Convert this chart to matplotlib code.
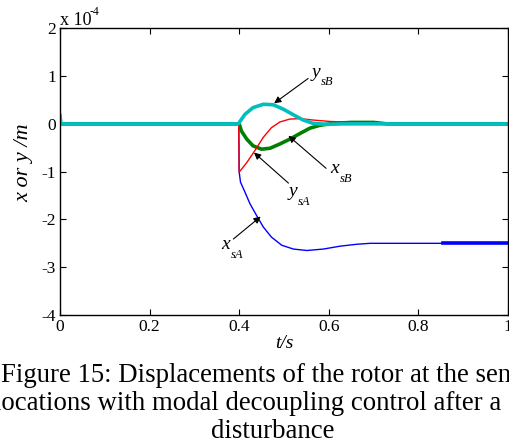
import matplotlib
matplotlib.use("Agg")
import matplotlib.pyplot as plt

plt.rcParams["font.family"] = ["Liberation Serif", "DejaVu Serif"]
plt.rcParams["axes.unicode_minus"] = False

# displacement values in units of 1e-4 m
t_xsA = [0, 0.399, 0.400, 0.401, 0.403, 0.413, 0.424, 0.439, 0.454, 0.472, 0.495,
         0.521, 0.551, 0.588, 0.625, 0.662, 0.692, 0.75, 0.855, 1.0]
v_xsA = [0, 0, -1.00, -1.08, -1.22, -1.43, -1.67, -1.92, -2.16, -2.37, -2.54,
         -2.62, -2.65, -2.62, -2.56, -2.52, -2.50, -2.50, -2.50, -2.50]

t_xsB = [0, 0.400, 0.405, 0.417, 0.431, 0.450, 0.469, 0.491, 0.513, 0.536, 0.558,
         0.580, 0.610, 0.650, 0.700, 0.730, 1.0]
v_xsB = [0, 0, -0.15, -0.32, -0.46, -0.53, -0.51, -0.42, -0.32, -0.20, -0.09,
         -0.03, 0.01, 0.03, 0.03, 0.0, 0]

t_ysA = [0, 0.399, 0.400, 0.417, 0.435, 0.454, 0.472, 0.491, 0.513, 0.536, 0.565,
         0.603, 0.662, 0.700, 1.0]
v_ysA = [0, 0, -1.01, -0.81, -0.56, -0.28, -0.08, 0.04, 0.10, 0.11, 0.08,
         0.05, 0.03, 0.0, 0]

t_ysB = [0, 0.002, 0.004, 0.398, 0.413, 0.431, 0.454, 0.476, 0.498, 0.521, 0.543,
         0.565, 0.595, 0.630, 1.0]
v_ysB = [0.18, 0.02, 0, 0, 0.20, 0.34, 0.41, 0.40, 0.31, 0.19, 0.08,
         0.01, -0.01, 0, 0]

# letter, subscript, text baseline, arrow start, arrow tip (t, value)
labels = [
    ("y", "sB", (0.562, 0.985), (0.554, 0.95), (0.478, 0.43)),
    ("x", "sB", (0.603, -1.03), (0.594, -0.93), (0.510, -0.25)),
    ("y", "sA", (0.510, -1.52), (0.510, -1.24), (0.433, -0.60)),
    ("x", "sA", (0.361, -2.62), (0.387, -2.41), (0.448, -1.94)),
]

x_ticks = [0, 0.2, 0.4, 0.6, 0.8, 1]
x_ticklabels = ["0", "0.2", "0.4", "0.6", "0.8", "1"]
y_ticks = [-4, -3, -2, -1, 0, 1, 2]

caption = [
    "Figure 15: Displacements of the rotor at the sensor",
    "locations with modal decoupling control after a step",
    "disturbance",
]

W, H = 510, 447
fig = plt.figure(figsize=(W / 100, H / 100), dpi=100)
ax = fig.add_axes([0.1176, 0.2953, 0.8784, 0.6414])

ax.plot(t_xsA, v_xsA, color=(0, 0, 1), lw=1.0)
ax.plot(t_xsA[-2:], v_xsA[-2:], color=(0, 0, 1), lw=2.6)
ax.plot(t_xsB, v_xsB, color=(0, 0.5, 0), lw=2.6)
ax.plot(t_ysA, v_ysA, color=(1, 0, 0), lw=1.0)
ax.plot(t_ysB, v_ysB, color=(0, 0.75, 0.75), lw=2.6)

for letter, sub, pos, start, tip in labels:
    ax.text(pos[0], pos[1], letter, fontsize=14, fontstyle="italic",
            ha="left", va="baseline")
    ax.annotate(sub, xy=pos, xytext=(9.5, -8.5), textcoords="offset pixels",
                fontsize=9, fontstyle="italic", ha="left", va="baseline")
    ax.annotate("", xy=tip, xytext=start,
                arrowprops=dict(arrowstyle="-|>", color="black", lw=0.8,
                                mutation_scale=10, shrinkA=0, shrinkB=0))

ax.set_xlim(0, 1)
ax.set_ylim(-4, 2)
ax.set_xticks(x_ticks)
ax.set_xticklabels(x_ticklabels)
ax.set_yticks(y_ticks)
ax.set_yticklabels([str(v) for v in y_ticks])
ax.tick_params(direction="in", top=True, right=True, length=4, width=0.8,
               labelsize=12.5, pad=3)
for s in ax.spines.values():
    s.set_linewidth(1.0)

# exponent label above the y axis
fig.text(60 / W, 1 - 25 / H, "x 10", fontsize=13, ha="left", va="baseline")
fig.text(90 / W, 1 - 15 / H, "-4", fontsize=8.5, ha="left", va="baseline")

ax.set_xlabel("t/s", fontsize=14, fontstyle="italic", labelpad=0)
ax.set_ylabel("x or y /m", fontsize=16, fontstyle="italic")
ax.yaxis.set_label_coords(-0.060, 0.53)

for i, line in enumerate(caption):
    fig.text(273 / W, 1 - (381.5 + 28.3 * i) / H, line, fontsize=19.3,
             ha="center", va="baseline")

fig.savefig("out.png", dpi=100)
